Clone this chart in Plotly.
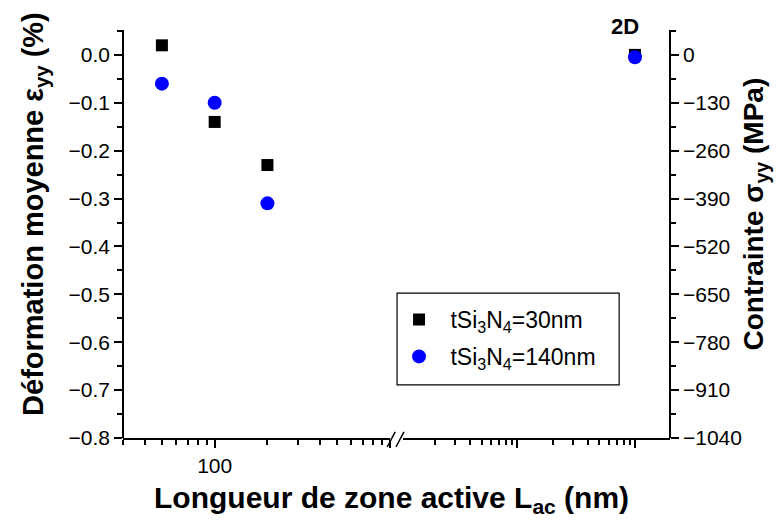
import plotly.graph_objects as go

# active zone length (nm), "2D" reference placed on the second axis segment
lac = [50, 100, 200]
lac_2d = [10000]

# mean strain eps_yy (%)
eps_30 = [0.02, -0.14, -0.23]
eps_140 = [-0.06, -0.10, -0.31]
eps_30_2d = [0.0]
eps_140_2d = [-0.005]

names = ["&nbsp;tSi<sub>3</sub>N<sub>4</sub>=30nm", "&nbsp;tSi<sub>3</sub>N<sub>4</sub>=140nm"]

y_ticks = [0.0, -0.1, -0.2, -0.3, -0.4, -0.5, -0.6, -0.7, -0.8]
mpa_ticks = [0, -130, -260, -390, -520, -650, -780, -910, -1040]

font = "Liberation Sans, Arial, sans-serif"
sq = dict(symbol="square", size=12, color="black")
ci = dict(symbol="circle", size=14, color="#0000ff")

fig = go.Figure()
fig.add_trace(go.Scatter(x=lac, y=eps_30, mode="markers", marker=sq, name=names[0],
                         legendgroup="a"))
fig.add_trace(go.Scatter(x=lac, y=eps_140, mode="markers", marker=ci, name=names[1],
                         legendgroup="b"))
fig.add_trace(go.Scatter(x=lac_2d, y=eps_30_2d, mode="markers", marker=sq,
                         xaxis="x2", showlegend=False))
fig.add_trace(go.Scatter(x=lac_2d, y=eps_140_2d, mode="markers", marker=ci,
                         xaxis="x2", showlegend=False))

ymin, ymax = -0.8, 0.052
k = 1300  # MPa per %

axis_common = dict(showline=True, linecolor="black", linewidth=1.5,
                   ticks="outside", ticklen=8, tickwidth=1.5, tickcolor="black",
                   showgrid=False, zeroline=False, mirror=False,
                   tickfont=dict(family=font, size=21, color="black"))

minor_left = [30, 40, 50, 60, 70, 80, 90, 200, 300, 400, 500, 600, 700, 800, 900]
minor_right = [200, 300, 400, 500, 600, 700, 800, 900,
               2000, 3000, 4000, 5000, 6000, 7000, 8000, 9000, 20000]

# the page has an 8px body margin, so the figure is shrunk by that much
fig.update_layout(
    width=774, height=513,
    margin=dict(l=115, r=112, t=22, b=83),
    plot_bgcolor="white", paper_bgcolor="white",
    font=dict(family=font, color="black"),
    xaxis=dict(**axis_common, type="log", domain=[0, 0.488],
               range=[1.477, 3.0], tickvals=[100, 1000], ticktext=["100", ""],
               minor=dict(tickmode="array", tickvals=minor_left, ticks="outside",
                          ticklen=5, tickwidth=1.5, tickcolor="black"),
               anchor="y"),
    xaxis2=dict(**axis_common, type="log", domain=[0.512, 1.0],
                range=[2.034, 4.297], tickvals=[1000, 10000], ticktext=["", ""],
                minor=dict(tickmode="array", tickvals=minor_right, ticks="outside",
                           ticklen=5, tickwidth=1.5, tickcolor="black"),
                anchor="y"),
    yaxis=dict(**axis_common, range=[ymin, ymax], tickvals=y_ticks,
               tickformat=".1f", anchor="free", position=0,
               minor=dict(dtick=0.05, ticks="outside", ticklen=5, tickwidth=1.5,
                          tickcolor="black")),
    yaxis2=dict(**axis_common, range=[ymin * k, ymax * k], tickvals=mpa_ticks,
                overlaying="y", side="right", anchor="free", position=1,
                minor=dict(dtick=65, ticks="outside", ticklen=5, tickwidth=1.5,
                           tickcolor="black")),
    legend=dict(x=0.4955, y=0.343, xanchor="left", yanchor="top",
                borderwidth=0, bgcolor="rgba(0,0,0,0)",
                font=dict(family=font, size=23),
                itemwidth=40, tracegroupgap=4),
    showlegend=True,
)

# invisible trace so the right axis is drawn
fig.add_trace(go.Scatter(x=[lac[0]], y=[ymin * k], yaxis="y2", mode="markers",
                         marker=dict(opacity=0), showlegend=False, hoverinfo="skip"))

# axis titles
fig.add_annotation(x=0.49, xref="paper", y=-0.15, yref="paper", yanchor="middle",
                   text="<b>Longueur de zone active L<sub>ac</sub> (nm)</b>",
                   showarrow=False, font=dict(family=font, size=30, color="black"))
fig.add_annotation(x=-0.161, xref="paper", y=0.549, yref="paper",
                   xanchor="center", yanchor="middle", textangle=-90,
                   text="<b>Déformation moyenne ε<sub>yy</sub> (%)</b>",
                   showarrow=False, font=dict(family=font, size=29, color="black"))
fig.add_annotation(x=1.157, xref="paper", y=0.55, yref="paper",
                   xanchor="center", yanchor="middle", textangle=-90,
                   text="<b>Contrainte σ<sub>yy</sub> (MPa)</b>",
                   showarrow=False, font=dict(family=font, size=28, color="black"))

fig.add_annotation(x=4, xref="x2", y=1, yref="paper", text="<b>2D</b>",
                   showarrow=False, yanchor="middle", xshift=-10, yshift=4,
                   font=dict(family=font, size=22, color="black"))

# legend frame
fig.add_shape(type="rect", xref="paper", yref="paper",
              x0=0.501, x1=0.907, y0=0.130, y1=0.355,
              line=dict(color="black", width=1.2))

# axis break marks
for x0 in (0.483, 0.499):
    fig.add_shape(type="line", xref="paper", yref="paper",
                  x0=x0, x1=x0 + 0.0146, y0=-0.022, y1=0.015,
                  line=dict(color="black", width=1.5))

fig.write_html("out.html")
